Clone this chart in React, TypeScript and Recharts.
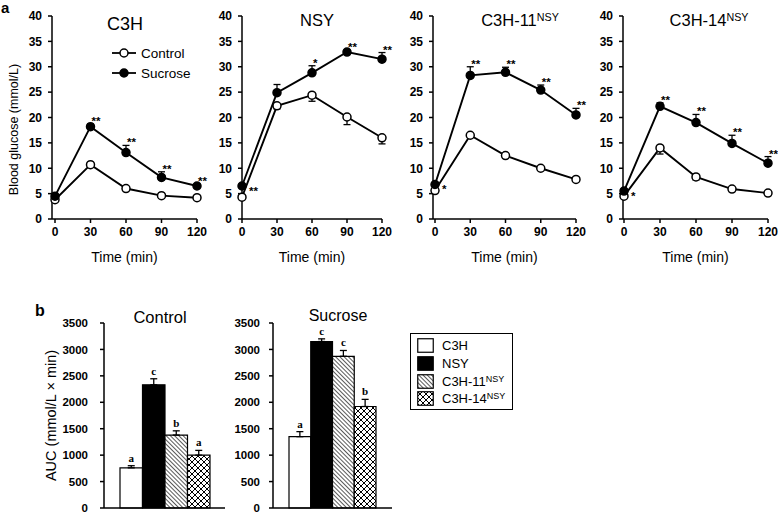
import {
  LineChart,
  Line,
  XAxis,
  YAxis,
  ErrorBar,
  LabelList,
  Legend,
  BarChart,
  Bar,
} from "recharts";

// glucose tolerance, minutes
const times = [0, 30, 60, 90, 120];
const glucoseTicks = [0, 5, 10, 15, 20, 25, 30, 35, 40];

const c3hControl = [3.8, 10.7, 6.0, 4.6, 4.2];
const c3hControlErr = [0.3, 0.4, 0.3, 0.2, 0.2];
const c3hSucrose = [4.5, 18.2, 13.1, 8.2, 6.5];
const c3hSucroseErr = [0.3, 0.5, 1.4, 1.1, 0.4];
const c3hSig = ["", "**", "**", "**", "**"];

const nsyControl = [4.3, 22.3, 24.4, 20.1, 16.0];
const nsyControlErr = [0.4, 0.6, 1.2, 1.5, 1.2];
const nsySucrose = [6.5, 24.9, 28.8, 32.9, 31.5];
const nsySucroseErr = [0.4, 1.6, 1.4, 0.4, 1.3];
const nsySig = ["**", "", "*", "**", "**"];

const c3h11Control = [5.6, 16.5, 12.5, 10.0, 7.8];
const c3h11ControlErr = [0.3, 0.4, 0.4, 0.3, 0.3];
const c3h11Sucrose = [6.8, 28.3, 28.9, 25.4, 20.5];
const c3h11SucroseErr = [0.4, 1.7, 1.0, 1.0, 1.3];
const c3h11Sig = ["*", "**", "**", "**", "**"];

const c3h14Control = [4.5, 14.0, 8.3, 5.9, 5.1];
const c3h14ControlErr = [0.3, 1.2, 0.6, 0.3, 0.3];
const c3h14Sucrose = [5.5, 22.2, 19.0, 14.9, 11.0];
const c3h14SucroseErr = [0.4, 0.7, 1.6, 1.6, 1.3];
const c3h14Sig = ["*", "**", "**", "**", "**"];

const seriesNames = ["Control", "Sucrose"];
const seriesFills = ["#fff", "#000"];

// AUC bars
const strains = ["C3H", "NSY", "C3H-11", "C3H-14"];
const strainSup = ["", "", "NSY", "NSY"];
const strainFills = ["#fff", "#000", "url(#hatch)", "url(#cross)"];
const aucTicks = [0, 500, 1000, 1500, 2000, 2500, 3000, 3500];
const aucControl = [760, 2330, 1380, 1000];
const aucControlErr = [40, 115, 80, 90];
const controlLetters = ["a", "c", "b", "a"];
const aucSucrose = [1350, 3150, 2870, 1920];
const aucSucroseErr = [95, 50, 110, 135];
const sucroseLetters = ["a", "c", "c", "b"];

const FONT = "'Liberation Sans', Arial, sans-serif";
const tickStyle = { fill: "#000", fontSize: 12, fontWeight: "bold" as const };

function StarLabel(p: any) {
  if (!p.value) return null;
  const first = p.index === 0;
  return (
    <text
      x={p.x + (first ? 7 : 1)}
      y={p.y + (first ? 11 : 1)}
      fontSize={11.5}
      fontWeight="bold"
      fill="#000"
    >
      {p.value}
    </text>
  );
}

function RotatedLabel(p: any) {
  const vb = p.viewBox || {};
  const cx = vb.x + p.dxPos;
  const cy = vb.y + vb.height / 2 + (p.shift || 0);
  return (
    <text
      x={cx}
      y={cy}
      transform={`rotate(-90 ${cx} ${cy})`}
      textAnchor="middle"
      dominantBaseline="central"
      fontSize={p.size}
      fill="#000"
    >
      {p.text}
    </text>
  );
}

function GlucoseLegend() {
  return (
    <div style={{ fontFamily: FONT }}>
      {seriesNames.map((n, i) => (
        <div key={n} style={{ display: "flex", alignItems: "center", height: 20 }}>
          <svg width={24} height={10}>
            <line x1={0} y1={5} x2={24} y2={5} stroke="#000" strokeWidth={1.8} />
            <circle cx={12} cy={5} r={4} fill={seriesFills[i]} stroke="#000" strokeWidth={1.5} />
          </svg>
          <span style={{ marginLeft: 5, fontSize: 13.5, color: "#000" }}>{n}</span>
        </div>
      ))}
    </div>
  );
}

type PanelProps = {
  left: number;
  yw: number;
  plotWidth: number;
  padLeft: number;
  control: number[];
  controlErr: number[];
  sucrose: number[];
  sucroseErr: number[];
  sig: string[];
  yLabel?: boolean;
  legend?: boolean;
};

function GlucosePanel(props: PanelProps) {
  const data = times.map((t, i) => ({
    t,
    control: props.control[i],
    controlErr: [props.controlErr[i], 0],
    sucrose: props.sucrose[i],
    sucroseErr: [0, props.sucroseErr[i]],
    top: props.sucrose[i] + props.sucroseErr[i],
    sig: props.sig[i],
  }));
  const yw = props.yw;
  return (
    <div style={{ position: "absolute", left: props.left, top: 0 }}>
      <LineChart
        width={yw + props.plotWidth + 12}
        height={270}
        data={data}
        margin={{ top: 16, right: 12, left: 0, bottom: 0 }}
      >
        <XAxis
          dataKey="t"
          type="number"
          domain={[0, 120]}
          ticks={times}
          interval={0}
          padding={{ left: props.padLeft, right: 0 }}
          height={51}
          tick={tickStyle}
          tickSize={4}
          tickMargin={4}
          axisLine={{ stroke: "#000", strokeWidth: 1.5 }}
          tickLine={{ stroke: "#000", strokeWidth: 1.5 }}
          label={{ value: "Time (min)", position: "insideBottom", offset: 8, fontSize: 14, fill: "#000" }}
        />
        <YAxis
          domain={[0, 40]}
          ticks={glucoseTicks}
          interval={0}
          width={yw}
          tick={tickStyle}
          tickSize={4}
          tickMargin={6}
          axisLine={{ stroke: "#000", strokeWidth: 1.5 }}
          tickLine={{ stroke: "#000", strokeWidth: 1.5 }}
          label={
            props.yLabel ? (
              <RotatedLabel text="Blood glucose (mmol/L)" dxPos={14} shift={12} size={12.5} />
            ) : undefined
          }
        />
        {props.legend && (
          <Legend
            layout="vertical"
            align="center"
            verticalAlign="middle"
            content={() => <GlucoseLegend />}
            wrapperStyle={{ left: 112, top: 43, width: "auto" }}
          />
        )}
        <Line
          dataKey="control"
          type="linear"
          stroke="#000"
          strokeWidth={1.9}
          dot={{ r: 4, fill: "#fff", stroke: "#000", strokeWidth: 1.5 }}
          activeDot={false}
          isAnimationActive={false}
        >
          <ErrorBar dataKey="controlErr" direction="y" width={3.5} stroke="#000" strokeWidth={1.3} />
        </Line>
        <Line
          dataKey="sucrose"
          type="linear"
          stroke="#000"
          strokeWidth={1.9}
          dot={{ r: 4, fill: "#000", stroke: "#000", strokeWidth: 1.5 }}
          activeDot={false}
          isAnimationActive={false}
        >
          <ErrorBar dataKey="sucroseErr" direction="y" width={3.5} stroke="#000" strokeWidth={1.3} />
        </Line>
        <Line
          dataKey="top"
          stroke="#000"
          strokeOpacity={0}
          dot={false}
          activeDot={false}
          isAnimationActive={false}
        >
          <LabelList dataKey="sig" content={(p: any) => <StarLabel {...p} />} />
        </Line>
      </LineChart>
    </div>
  );
}

function BarLetter(p: any) {
  const vb = p.viewBox && p.viewBox.width !== undefined ? p.viewBox : p;
  const { x, y, width, height } = vb;
  const v = Number(p.value);
  const top = y - (p.err * height) / v;
  return (
    <text
      x={x + width / 2}
      y={top - 4}
      textAnchor="middle"
      fontFamily="'Liberation Serif', serif"
      fontWeight="bold"
      fontSize={11}
      fill="#000"
    >
      {p.letter}
    </text>
  );
}

function Patterns() {
  return (
    <defs>
      <pattern id="hatch" patternUnits="userSpaceOnUse" width={3} height={3} patternTransform="rotate(-45)">
        <rect width={3} height={3} fill="#fff" />
        <line x1={0} y1={0} x2={0} y2={3} stroke="#000" strokeWidth={1.3} />
      </pattern>
      <pattern id="cross" patternUnits="userSpaceOnUse" width={6} height={6}>
        <rect width={6} height={6} fill="#fff" />
        <path d="M0,0 L6,6 M6,0 L0,6" stroke="#000" strokeWidth={1} />
      </pattern>
    </defs>
  );
}

type AucProps = {
  left: number;
  yw: number;
  plotWidth: number;
  barSize: number;
  tickMargin: number;
  name: string;
  values: number[];
  errs: number[];
  letters: string[];
  yLabel?: boolean;
};

function AucPanel(props: AucProps) {
  const row: any = { group: props.name };
  strains.forEach((_, i) => {
    row[`v${i}`] = props.values[i];
    row[`e${i}`] = [0, props.errs[i]];
  });
  return (
    <div style={{ position: "absolute", left: props.left, top: 300 }}>
      <BarChart
        width={props.yw + props.plotWidth + 10}
        height={212}
        data={[row]}
        margin={{ top: 23, right: 10, left: 0, bottom: 0 }}
        barGap={0}
        barSize={props.barSize}
      >
        <Patterns />
        <XAxis
          dataKey="group"
          height={4}
          tick={false}
          tickLine={false}
          axisLine={{ stroke: "#000", strokeWidth: 1.5 }}
        />
        <YAxis
          domain={[0, 3500]}
          ticks={aucTicks}
          interval={0}
          width={props.yw}
          tick={{ ...tickStyle, fontSize: 11.5 }}
          tickSize={4}
          tickMargin={props.tickMargin}
          axisLine={{ stroke: "#000", strokeWidth: 1.5 }}
          tickLine={{ stroke: "#000", strokeWidth: 1.5 }}
          label={
            props.yLabel ? (
              <RotatedLabel text="AUC (mmol/L × min)" dxPos={51} shift={0} size={14.5} />
            ) : undefined
          }
        />
        {strains.map((s, i) => (
          <Bar
            key={s}
            dataKey={`v${i}`}
            fill={strainFills[i]}
            stroke="#000"
            strokeWidth={1.2}
            isAnimationActive={false}
          >
            <ErrorBar dataKey={`e${i}`} direction="y" width={3.5} stroke="#000" strokeWidth={1.3} />
            <LabelList
              dataKey={`v${i}`}
              content={(p: any) => <BarLetter {...p} err={props.errs[i]} letter={props.letters[i]} />}
            />
          </Bar>
        ))}
      </BarChart>
    </div>
  );
}

function Title({ cx, top, size, main, sup }: { cx: number; top: number; size: number; main: string; sup?: string }) {
  return (
    <div
      style={{
        position: "absolute",
        left: cx - 70,
        width: 140,
        top,
        textAlign: "center",
        fontSize: size,
        lineHeight: `${size}px`,
        color: "#000",
        whiteSpace: "nowrap",
      }}
    >
      {main}
      {sup && (
        <span style={{ fontSize: size * 0.65, position: "relative", top: -size * 0.3 }}>{sup}</span>
      )}
    </div>
  );
}

function BarLegend() {
  return (
    <div
      style={{
        position: "absolute",
        left: 410,
        top: 333,
        width: 103,
        height: 77,
        border: "1.5px solid #000",
        padding: "3px 0 0 6px",
        boxSizing: "border-box",
      }}
    >
      <svg width={0} height={0} style={{ position: "absolute" }}>
        <Patterns />
      </svg>
      {strains.map((s, i) => (
        <div key={s} style={{ display: "flex", alignItems: "center", height: 17.7 }}>
          <svg width={17} height={15}>
            <rect x={0.75} y={0.75} width={15.5} height={13.5} fill={strainFills[i]} stroke="#000" strokeWidth={1.2} />
          </svg>
          <span style={{ marginLeft: 8, fontSize: 13, color: "#000", whiteSpace: "nowrap" }}>
            {s}
            {strainSup[i] && (
              <span style={{ fontSize: 9, position: "relative", top: -4 }}>{strainSup[i]}</span>
            )}
          </span>
        </div>
      ))}
    </div>
  );
}

export default function App() {
  return (
    <div
      style={{
        position: "absolute",
        left: 0,
        top: 0,
        width: 778,
        height: 512,
        overflow: "hidden",
        background: "#fff",
        fontFamily: FONT,
      }}
    >
      <div style={{ position: "absolute", left: 1, top: 0, fontSize: 15, fontWeight: "bold", lineHeight: "15px" }}>a</div>
      <div style={{ position: "absolute", left: 35, top: 303, fontSize: 16, fontWeight: "bold", lineHeight: "16px" }}>b</div>

      <GlucosePanel
        left={0}
        yw={52}
        plotWidth={145}
        padLeft={3}
        control={c3hControl}
        controlErr={c3hControlErr}
        sucrose={c3hSucrose}
        sucroseErr={c3hSucroseErr}
        sig={c3hSig}
        yLabel
        legend
      />
      <GlucosePanel
        left={202}
        yw={40}
        plotWidth={140}
        padLeft={0}
        control={nsyControl}
        controlErr={nsyControlErr}
        sucrose={nsySucrose}
        sucroseErr={nsySucroseErr}
        sig={nsySig}
      />
      <GlucosePanel
        left={393}
        yw={40}
        plotWidth={143}
        padLeft={2}
        control={c3h11Control}
        controlErr={c3h11ControlErr}
        sucrose={c3h11Sucrose}
        sucroseErr={c3h11SucroseErr}
        sig={c3h11Sig}
      />
      <GlucosePanel
        left={583}
        yw={40}
        plotWidth={145}
        padLeft={1}
        control={c3h14Control}
        controlErr={c3h14ControlErr}
        sucrose={c3h14Sucrose}
        sucroseErr={c3h14SucroseErr}
        sig={c3h14Sig}
      />

      <Title cx={125} top={14.5} size={18} main="C3H" />
      <Title cx={317} top={12.3} size={16.5} main="NSY" />
      <Title cx={520} top={12.3} size={16.5} main="C3H-11" sup="NSY" />
      <Title cx={709} top={12.3} size={16.5} main="C3H-14" sup="NSY" />

      <AucPanel
        left={0}
        yw={104}
        plotWidth={121}
        barSize={22.5}
        tickMargin={12}
        name="Control"
        values={aucControl}
        errs={aucControlErr}
        letters={controlLetters}
        yLabel
      />
      <AucPanel
        left={223}
        yw={50}
        plotWidth={119}
        barSize={21.75}
        tickMargin={9}
        name="Sucrose"
        values={aucSucrose}
        errs={aucSucroseErr}
        letters={sucroseLetters}
      />
      <Title cx={160} top={309} size={16.5} main="Control" />
      <Title cx={338} top={308} size={16} main="Sucrose" />

      <BarLegend />
    </div>
  );
}
